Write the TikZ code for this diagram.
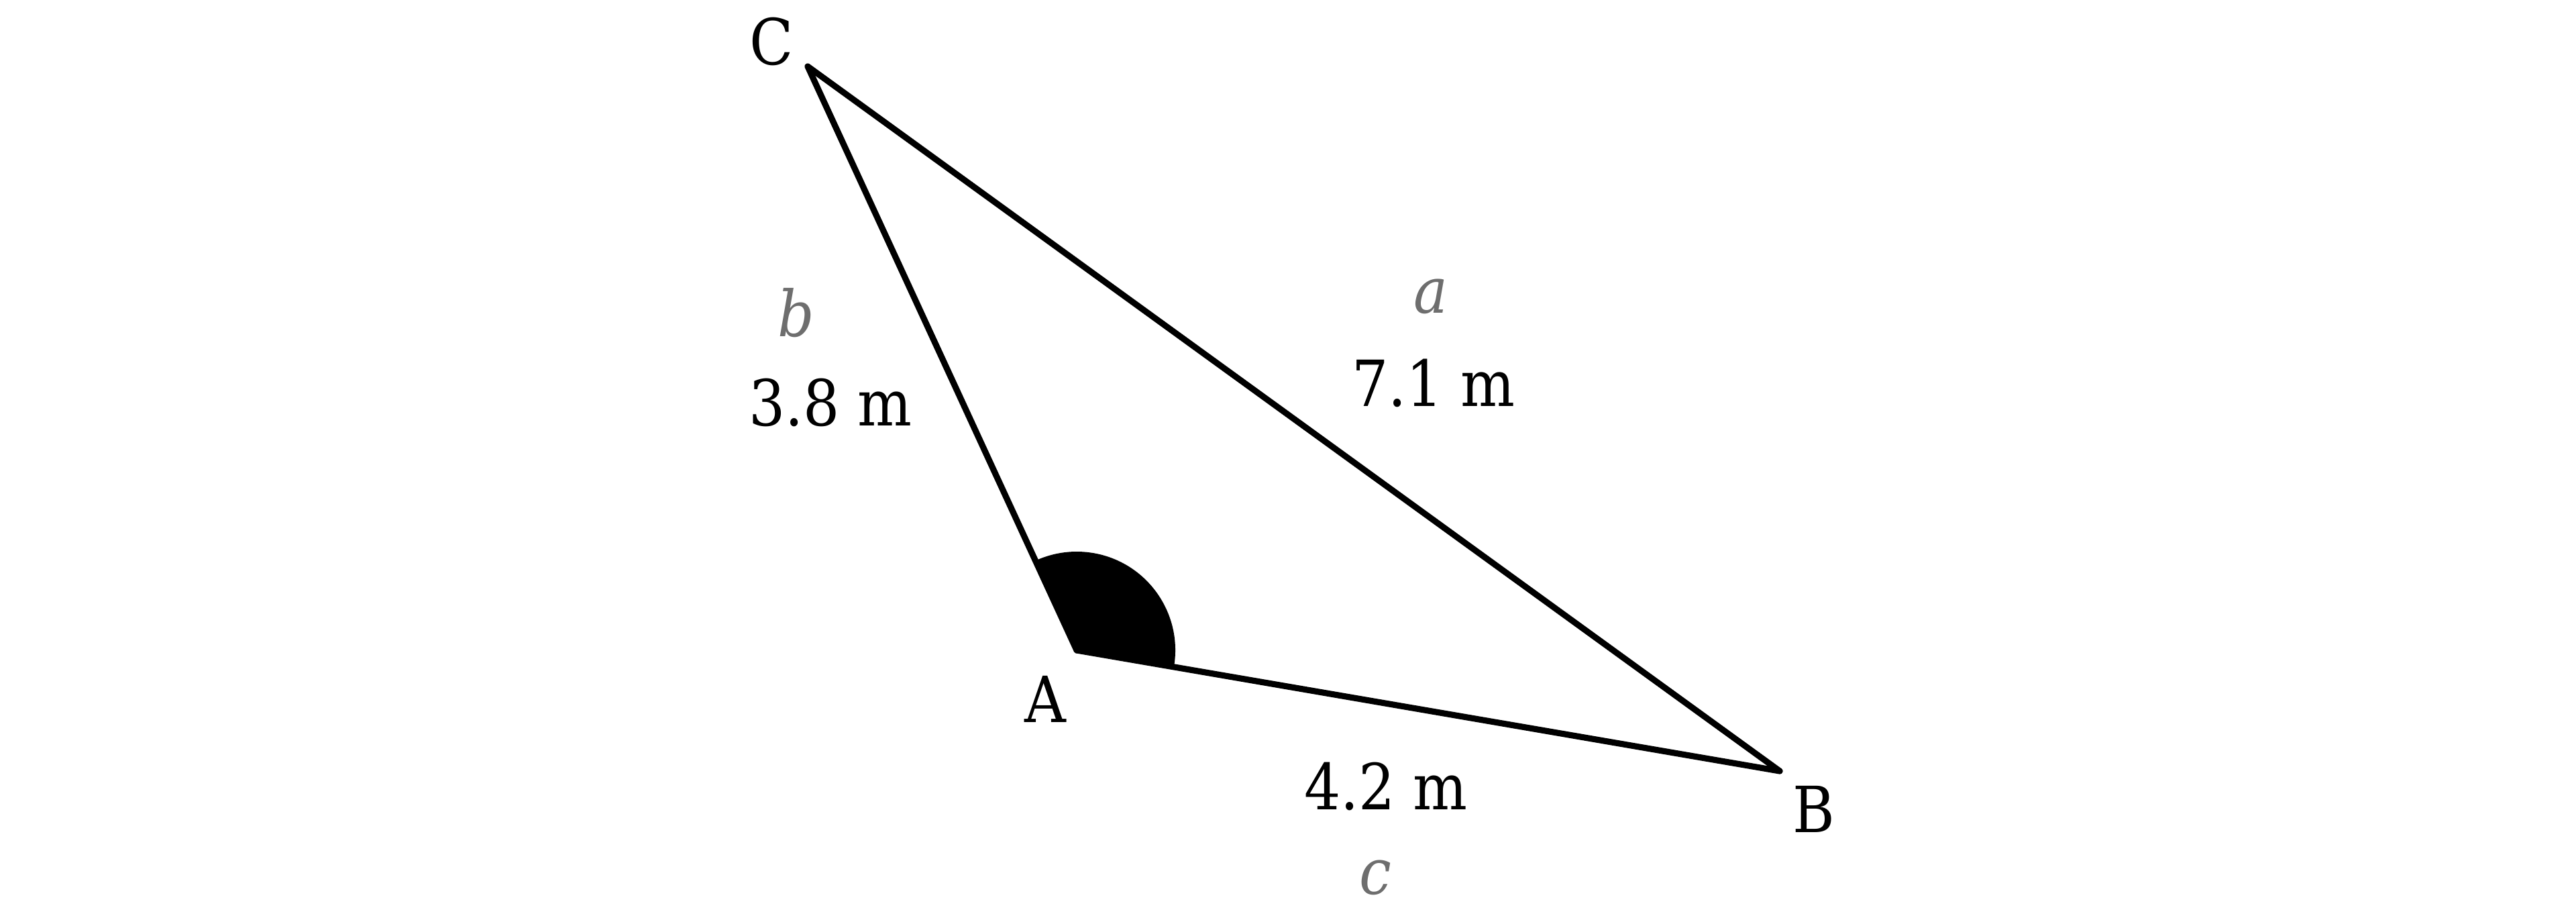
\documentclass[tikz,border=0pt]{standalone}
\usepackage{fontspec}
\setmainfont{DejaVu Serif Condensed}
\usetikzlibrary{positioning}
\definecolor{sidegray}{RGB}{110,110,110}
\tikzset{
  vertexlabel/.style={inner sep=0pt,font=\fontsize{27}{30}\selectfont},
  sidelabel/.style={inner sep=0pt,font=\fontsize{27}{30}\selectfont\itshape,text=sidegray},
  lengthlabel/.style={inner sep=0pt,font=\fontsize{27}{30}\selectfont}
}
\begin{document}
\begin{tikzpicture}[line cap=round,line join=miter,x=1cm,y=1cm]
\useasboundingbox (0,0) rectangle (38.4,13.61);
\coordinate (A) at (16.05,3.92);
\coordinate (B) at (26.53,2.12);
\coordinate (C) at (12.04,12.62);
% angle at A
\fill (A) -- ++(-9.75:1.47) arc[start angle=-9.75,end angle=114.7,radius=1.47] -- cycle;
\draw [line width=2.6pt] (A)-- (B);
\draw [line width=2.6pt] (B)-- (C);
\draw [line width=2.6pt] (C)-- (A);
\node[vertexlabel] (labA) at (15.58,3.19) {A};
\node[vertexlabel] (labB) at (27.04,1.55) {B};
\node[vertexlabel] (labC) at (11.50,12.99) {C};
\node[sidelabel] (sidea) at (21.33,9.19) {a};
\node[sidelabel] (sideb) at (11.87,8.95) {b};
\node[sidelabel] (sidec) at (20.50,0.53) {c};
\node[lengthlabel] (lena) at (21.37,7.90) {7.1 m};
\node[lengthlabel] (lenb) at (12.38,7.61) {3.8 m};
\node[lengthlabel] (lenc) at (20.66,1.89) {4.2 m};
\end{tikzpicture}
\end{document}
